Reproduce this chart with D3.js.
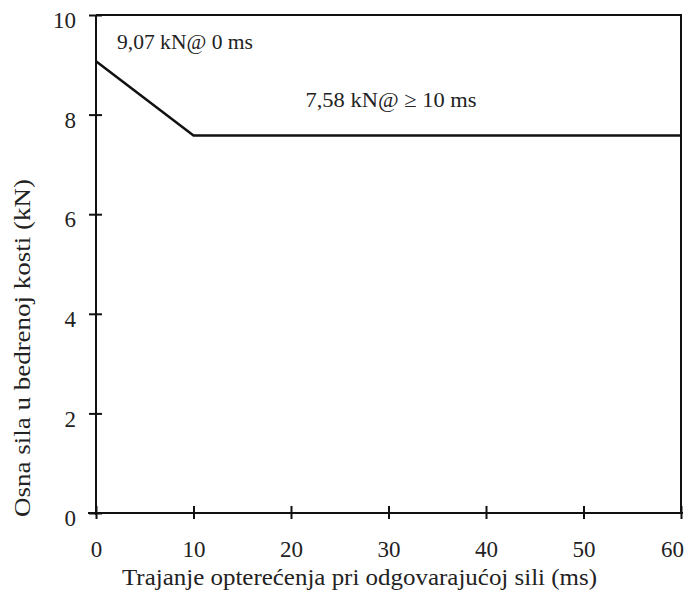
<!DOCTYPE html>
<html>
<head>
<meta charset="utf-8">
<title>d3</title>
<script src="https://cdn.jsdelivr.net/npm/d3@7"></script>
<style>
    body { margin: 0; background: #fff; }
    svg text { font-family: "Liberation Serif", "DejaVu Serif", serif; fill: #222; }
</style>
</head>
<body>
<div id="chartArea"></div>
<script>
// data
var timeMs = [0, 10, 60];
var forceKN = [9.07, 7.58, 7.58];
var xTicks = [0, 10, 20, 30, 40, 50, 60];
var yTicks = [0, 2, 4, 6, 8, 10];
var notes = [
    { x: 0, y: 9.07, text: "9,07 kN@ 0 ms" },
    { x: 10, y: 7.58, text: "7,58 kN@ \u2265 10 ms" }
];

var width = 685, height = 598;
var margin = { top: 15, left: 96 };
var w = 681 - margin.left, h = 513 - margin.top;

var svg = d3.select('#chartArea').append('svg')
    .attr('width', width)
    .attr('height', height);

var g = svg.append('g')
    .attr('transform', 'translate(' + margin.left + ',' + margin.top + ')');

var x = d3.scaleLinear().domain([0, 60]).range([0, w]);
var y = d3.scaleLinear().domain([0, 10]).range([h, 0]);

// frame (top + right)
g.append('path')
    .attr('d', 'M0,0H' + w + 'V' + h)
    .attr('fill', 'none')
    .attr('stroke', '#111')
    .attr('stroke-width', 2);

// x axis, ticks cross the line
var xAxis = g.append('g')
    .attr('transform', 'translate(0,' + h + ')')
    .call(d3.axisBottom(x).tickValues(xTicks).tickSize(6).tickPadding(22));
xAxis.selectAll('line').attr('y1', -7).attr('stroke-width', 2).attr('stroke', '#111');
xAxis.select('.domain').attr('stroke-width', 2).attr('stroke', '#111').attr('d', 'M-8,0H' + (w + 2));
xAxis.selectAll('.tick text')
    .filter(function(d) { return d === 60; })
    .attr('dx', -9);

var yAxis = g.append('g')
    .call(d3.axisLeft(y).tickValues(yTicks).tickSize(7).tickPadding(13));
yAxis.selectAll('line').attr('x1', 6).attr('stroke-width', 2).attr('stroke', '#111');
yAxis.select('.domain').attr('stroke-width', 2).attr('stroke', '#111').attr('d', 'M0,' + (h + 2) + 'V0');
yAxis.selectAll('.tick text').attr('dy', '0.55em');

g.selectAll('.tick text')
    .attr('font-size', 23)
    .style('font-family', '"Liberation Serif", serif')
    .attr('fill', '#222');

// force line
var line = d3.line()
    .x(function(d, i) { return x(timeMs[i]); })
    .y(function(d) { return y(d); });

g.append('path')
    .datum(forceKN)
    .attr('d', line)
    .attr('fill', 'none')
    .attr('stroke', '#111')
    .attr('stroke-width', 2.5);

// annotations
g.append('text')
    .attr('x', x(notes[0].x) + 21)
    .attr('y', 34)
    .attr('font-size', 22)
    .attr('textLength', 136)
    .attr('lengthAdjust', 'spacingAndGlyphs')
    .text(notes[0].text);

g.append('text')
    .attr('x', x(notes[1].x) + 112)
    .attr('y', 92)
    .attr('font-size', 22)
    .attr('textLength', 171)
    .attr('lengthAdjust', 'spacingAndGlyphs')
    .text(notes[1].text);

// axis titles
svg.append('text')
    .attr('x', 122)
    .attr('y', 585)
    .attr('font-size', 24)
    .attr('textLength', 475)
    .attr('lengthAdjust', 'spacingAndGlyphs')
    .text('Trajanje opterećenja pri odgovarajućoj sili (ms)');

svg.append('text')
    .attr('transform', 'translate(30,517) rotate(-90)')
    .attr('font-size', 24)
    .attr('textLength', 338)
    .attr('lengthAdjust', 'spacingAndGlyphs')
    .text('Osna sila u bedrenoj kosti (kN)');
</script>
</body>
</html>
